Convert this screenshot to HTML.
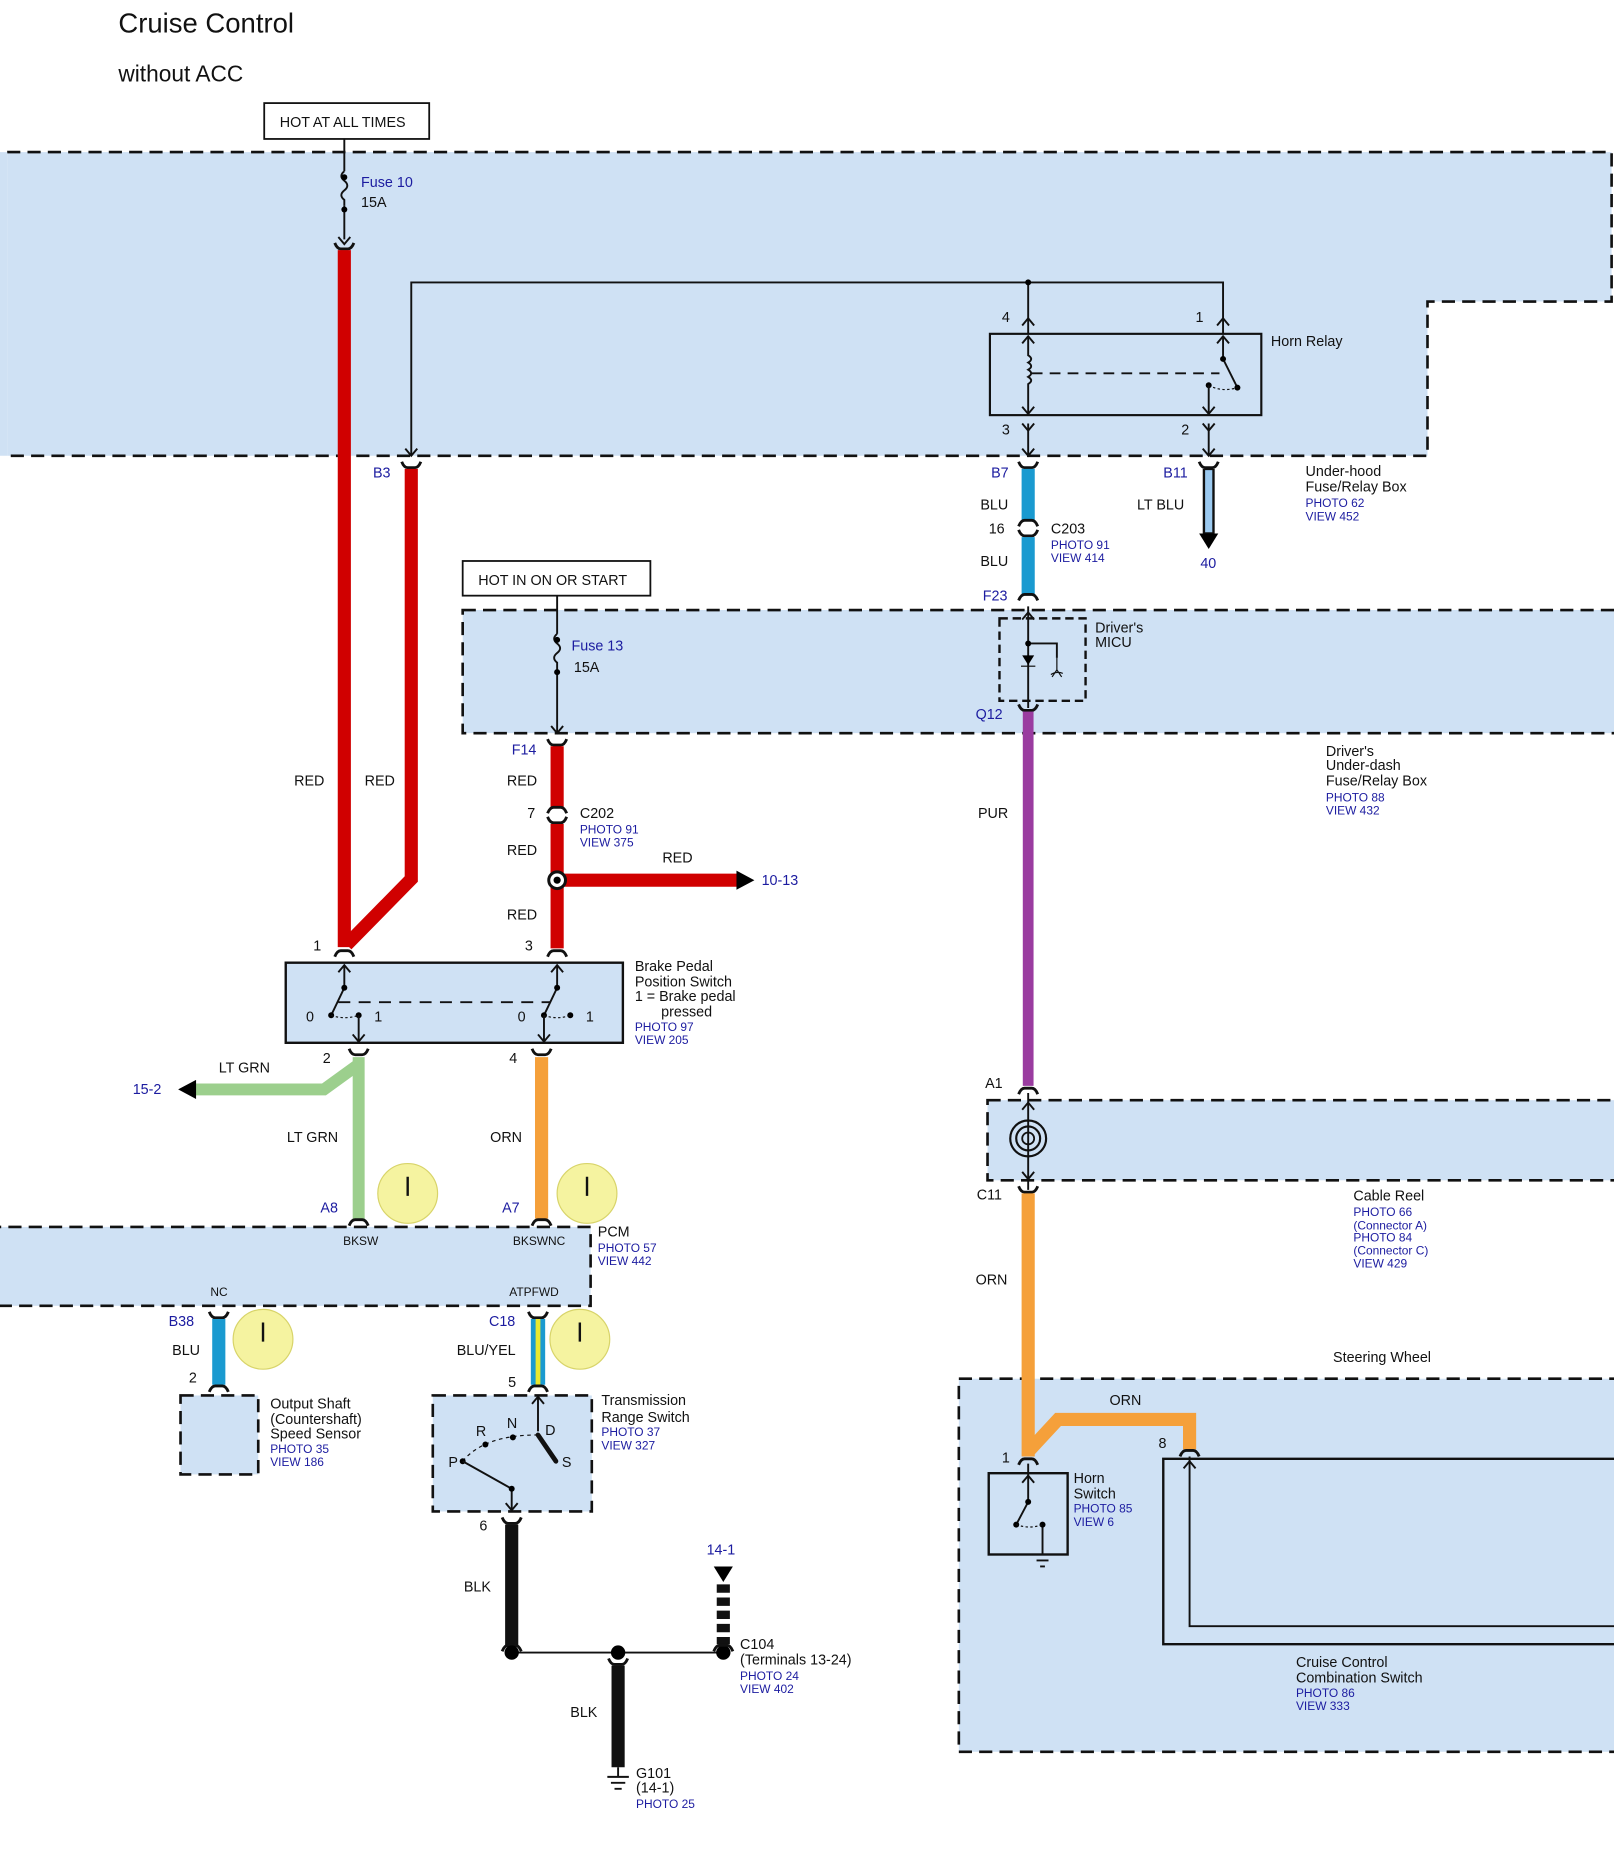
<!DOCTYPE html>
<html><head><meta charset="utf-8"><style>
html,body{margin:0;padding:0;background:#fff}
svg{display:block}
text{font-family:"Liberation Sans",sans-serif;font-size:12px;fill:#111}
.b{fill:#1c1ca0}
.dash{fill:#cfe1f4;stroke:#111;stroke-width:2.2;stroke-dasharray:11 6}
.ln{stroke:#111;stroke-width:1.6;fill:none}
.cap{stroke:#111;stroke-width:2.4;fill:none}
</style></head><body>
<svg width="1614" height="1868" viewBox="0 0 1350 1562" xmlns="http://www.w3.org/2000/svg">
<defs>
<g id="cd"><path class="cap" d="M-8 -3 Q-6 2 -3 2 L3 2 Q6 2 8 -3"/></g>
<g id="cu"><path class="cap" d="M-8 3 Q-6 -2 -3 -2 L3 -2 Q6 -2 8 3"/></g>
<g id="au"><path class="ln" d="M-5 6 L0 0 L5 6"/></g>
<g id="ad"><path class="ln" d="M-5 -6 L0 0 L5 -6"/></g>
</defs>
<text x="99" y="27" style="font-size:23px">Cruise Control</text>
<text x="99" y="68" style="font-size:19px">without ACC</text>

<path class="dash" d="M6 127 L1348 127 L1348 252 L1194 252 L1194 381 L6 381"/>
<path d="M0 127 L6 127 L6 381 L0 381Z" fill="#cfe1f4"/>
<rect class="dash" x="387" y="510" width="970" height="103"/>
<rect class="dash" x="-10" y="1026" width="504" height="66"/>
<rect class="dash" x="826" y="920" width="530" height="67"/>
<rect class="dash" x="802" y="1153" width="555" height="312"/>
<rect class="dash" x="151" y="1167" width="65" height="66"/>
<rect class="dash" x="362" y="1167" width="133" height="97"/>

<rect x="221" y="86" width="138" height="30" fill="#fff" stroke="#111" stroke-width="1.5"/>
<text x="234" y="106">HOT AT ALL TIMES</text>
<path class="ln" d="M288 116 V143 M288 172 V200"/>
<path class="ln" d="M288 143 q-5 4 0 8 q5 4 0 8 q-5 4 0 8 l0 5"/>
<circle cx="288" cy="148" r="2.5"/><circle cx="288" cy="175" r="2.5"/>
<text class="b" x="302" y="156">Fuse 10</text><text x="302" y="173">15A</text>
<use href="#ad" x="288" y="204"/>
<use href="#cd" x="288" y="206"/>
<line x1="288" y1="209" x2="288" y2="792" stroke="#d00000" stroke-width="11"/>

<path class="ln" d="M1023 279 V236 H344 V381"/>
<use href="#ad" x="344" y="381"/>
<use href="#cd" x="344" y="389"/>
<path d="M344 392 V735 L290 790" stroke="#d00000" stroke-width="11" fill="none"/>
<text class="b" x="312" y="399">B3</text>
<text x="246" y="657">RED</text><text x="305" y="657">RED</text>

<path class="ln" d="M860 236 V279"/>
<circle cx="860" cy="236" r="2.5"/>
<rect x="828" y="279" width="227" height="68" fill="none" stroke="#111" stroke-width="1.8"/>
<use href="#au" x="860" y="266"/><use href="#au" x="1023" y="266"/>
<use href="#au" x="860" y="281"/><use href="#au" x="1023" y="281"/>
<text x="838" y="269">4</text><text x="1000" y="269">1</text>
<text x="1063" y="289">Horn Relay</text>
<path class="ln" d="M860 281 V297 q5 3 0 6 q5 3 0 6 q5 3 0 6 q5 3 0 6 V347"/>
<path class="ln" d="M863 312 H1020" stroke-dasharray="9 6"/>
<path class="ln" d="M1023 281 V300 L1035 324"/><circle cx="1023" cy="300" r="2.5"/><circle cx="1035" cy="324" r="2.5"/>
<path d="M1011 322 Q1022 328 1035 324" stroke="#111" stroke-dasharray="2 2" fill="none"/>
<circle cx="1011" cy="322" r="2.5"/><path class="ln" d="M1011 322 V347"/>
<use href="#ad" x="860" y="346"/><use href="#ad" x="1011" y="346"/>
<use href="#ad" x="860" y="360"/><use href="#ad" x="1011" y="360"/>
<path class="ln" d="M860 354 V381 M1011 354 V381"/>
<use href="#ad" x="860" y="381"/><use href="#ad" x="1011" y="381"/>
<text x="838" y="363">3</text><text x="988" y="363">2</text>
<use href="#cd" x="860" y="389"/><use href="#cd" x="1011" y="389"/>
<text class="b" x="829" y="399">B7</text><text class="b" x="973" y="399">B11</text>
<text x="1092" y="398">Under-hood</text><text x="1092" y="411">Fuse/Relay Box</text>
<text class="b" x="1092" y="424" style="font-size:10px">PHOTO 62</text><text class="b" x="1092" y="435" style="font-size:10px">VIEW 452</text>
<line x1="1011" y1="392" x2="1011" y2="446" stroke="#111" stroke-width="10"/>
<line x1="1011" y1="393" x2="1011" y2="445" stroke="#9ccaf0" stroke-width="6"/>
<path d="M1003 446 L1019 446 L1011 459Z"/>
<text x="951" y="426">LT BLU</text><text class="b" x="1004" y="475">40</text>
<line x1="860" y1="392" x2="860" y2="435" stroke="#1a9ad0" stroke-width="11"/>
<use href="#cu" x="860" y="437"/><use href="#cd" x="860" y="446"/>
<line x1="860" y1="449" x2="860" y2="497" stroke="#1a9ad0" stroke-width="11"/>
<use href="#cu" x="860" y="499"/>
<text x="820" y="426">BLU</text><text x="827" y="446">16</text><text x="820" y="473">BLU</text>
<text x="879" y="446">C203</text><text class="b" x="879" y="459" style="font-size:10px">PHOTO 91</text><text class="b" x="879" y="470" style="font-size:10px">VIEW 414</text>
<text class="b" x="822" y="502">F23</text>

<rect x="387" y="469" width="157" height="29" fill="#fff" stroke="#111" stroke-width="1.5"/>
<text x="400" y="489">HOT IN ON OR START</text>
<path class="ln" d="M466 498 V530 M466 560 V613"/>
<path class="ln" d="M466 530 q-5 4 0 8 q5 4 0 8 q-5 4 0 8 l0 6"/>
<circle cx="466" cy="535" r="2.5"/><circle cx="466" cy="562" r="2.5"/>
<text class="b" x="478" y="544">Fuse 13</text><text x="480" y="562">15A</text>
<use href="#ad" x="466" y="613"/><use href="#cd" x="466" y="621"/>
<text class="b" x="428" y="631">F14</text>
<line x1="466" y1="624" x2="466" y2="675" stroke="#d00000" stroke-width="11"/>
<use href="#cu" x="466" y="677"/><use href="#cd" x="466" y="686"/>
<line x1="466" y1="689" x2="466" y2="793" stroke="#d00000" stroke-width="11"/>
<text x="424" y="657">RED</text><text x="441" y="684">7</text><text x="424" y="715">RED</text><text x="424" y="769">RED</text>
<text x="485" y="684">C202</text><text class="b" x="485" y="697" style="font-size:10px">PHOTO 91</text><text class="b" x="485" y="708" style="font-size:10px">VIEW 375</text>
<line x1="466" y1="736" x2="618" y2="736" stroke="#d00000" stroke-width="11"/>
<path d="M616 728 L631 736 L616 744Z"/>
<circle cx="466" cy="736" r="7" fill="#fff" stroke="#111" stroke-width="2.5"/><circle cx="466" cy="736" r="3"/>
<text x="554" y="721">RED</text><text class="b" x="637" y="740">10-13</text>

<rect x="836" y="517" width="72" height="69" fill="none" stroke="#111" stroke-width="2" stroke-dasharray="7 4"/>
<path class="ln" d="M860 507 V592 M860 538 H884 V550"/>
<use href="#au" x="860" y="512"/><circle cx="860" cy="538" r="2.5"/>
<path d="M855 548 H865 L860 556Z"/><line x1="854" y1="557" x2="866" y2="557" stroke="#111"/>
<path d="M879 564 q5 -3 10 -1 M884 550 V560 L880 566 M884 560 L888 566" stroke="#111" fill="none"/>
<text x="916" y="529">Driver's</text><text x="916" y="541">MICU</text>
<use href="#cd" x="860" y="592"/><text class="b" x="816" y="601">Q12</text>
<line x1="860" y1="595" x2="860" y2="908" stroke="#9a3ca0" stroke-width="9"/>
<text x="818" y="684">PUR</text>
<text x="1109" y="632">Driver's</text><text x="1109" y="644">Under-dash</text><text x="1109" y="657">Fuse/Relay Box</text>
<text class="b" x="1109" y="670" style="font-size:10px">PHOTO 88</text><text class="b" x="1109" y="681" style="font-size:10px">VIEW 432</text>

<use href="#cu" x="288" y="797"/><use href="#cu" x="466" y="797"/>
<text x="262" y="795">1</text><text x="439" y="795">3</text>
<rect x="239" y="805" width="282" height="67" fill="#cfe1f4" stroke="#111" stroke-width="2"/>
<use href="#au" x="288" y="807"/><use href="#au" x="466" y="807"/>
<path class="ln" d="M288 807 V826 L277 849 M466 807 V826 L455 849"/>
<circle cx="288" cy="826" r="2.5"/><circle cx="277" cy="849" r="2.5"/><circle cx="300" cy="849" r="2.5"/>
<circle cx="466" cy="826" r="2.5"/><circle cx="455" cy="849" r="2.5"/><circle cx="477" cy="849" r="2.5"/>
<path d="M277 849 Q288 853 300 849 M455 849 Q466 853 477 849" stroke="#111" stroke-dasharray="2 2" fill="none"/>
<path class="ln" d="M283 838 H460" stroke-dasharray="10 7"/>
<path class="ln" d="M300 849 V872 M455 849 V872"/>
<use href="#ad" x="300" y="871"/><use href="#ad" x="455" y="871"/>
<text x="256" y="854">0</text><text x="313" y="854">1</text><text x="433" y="854">0</text><text x="490" y="854">1</text>
<text x="531" y="812">Brake Pedal</text><text x="531" y="825">Position Switch</text><text x="531" y="837">1 = Brake pedal</text><text x="553" y="850">pressed</text>
<text class="b" x="531" y="862" style="font-size:10px">PHOTO 97</text><text class="b" x="531" y="873" style="font-size:10px">VIEW 205</text>
<use href="#cd" x="300" y="880"/><use href="#cd" x="453" y="880"/>
<text x="270" y="889">2</text><text x="426" y="889">4</text>
<path d="M300 884 V1020 M300 890 L271 911 H163" stroke="#9ccf8d" stroke-width="10" fill="none"/>
<path d="M164 903 L149 911 L164 919Z"/>
<text x="183" y="897">LT GRN</text><text class="b" x="111" y="915">15-2</text>
<text x="240" y="955">LT GRN</text>
<line x1="453" y1="884" x2="453" y2="1019" stroke="#f5a03a" stroke-width="11"/>
<text x="410" y="955">ORN</text>
<use href="#cu" x="300" y="1022"/><use href="#cu" x="453" y="1022"/>
<text class="b" x="268" y="1014">A8</text><text class="b" x="420" y="1014">A7</text>
<g fill="#f5f3a0" stroke="#d8d46a"><circle cx="341" cy="998" r="25"/><circle cx="491" cy="998" r="25"/><circle cx="220" cy="1120" r="25"/><circle cx="485" cy="1120" r="25"/></g>
<path d="M341 984 V1000 M491 984 V1000 M220 1106 V1122 M485 1106 V1122" stroke="#111" stroke-width="2"/>

<text x="287" y="1041" style="font-size:10px">BKSW</text><text x="429" y="1041" style="font-size:10px">BKSWNC</text>
<text x="176" y="1084" style="font-size:10px">NC</text><text x="426" y="1084" style="font-size:10px">ATPFWD</text>
<text x="500" y="1034">PCM</text><text class="b" x="500" y="1047" style="font-size:10px">PHOTO 57</text><text class="b" x="500" y="1058" style="font-size:10px">VIEW 442</text>
<use href="#cd" x="183" y="1100"/><use href="#cd" x="450" y="1100"/>
<text class="b" x="141" y="1109">B38</text><text class="b" x="409" y="1109">C18</text>
<line x1="183" y1="1103" x2="183" y2="1158" stroke="#1a9ad0" stroke-width="11"/>
<line x1="450" y1="1103" x2="450" y2="1158" stroke="#1a9ad0" stroke-width="12"/>
<line x1="450" y1="1103" x2="450" y2="1158" stroke="#e8e830" stroke-width="4"/>
<text x="144" y="1133">BLU</text><text x="382" y="1133">BLU/YEL</text>
<use href="#cu" x="183" y="1161"/><use href="#cu" x="450" y="1161"/>
<text x="158" y="1156">2</text><text x="425" y="1160">5</text>
<text x="226" y="1178">Output Shaft</text><text x="226" y="1191">(Countershaft)</text><text x="226" y="1203">Speed Sensor</text>
<text class="b" x="226" y="1215" style="font-size:10px">PHOTO 35</text><text class="b" x="226" y="1226" style="font-size:10px">VIEW 186</text>
<path class="ln" d="M450 1167 V1197"/><use href="#au" x="450" y="1168"/>
<path d="M450 1200 L465 1222" stroke="#111" stroke-width="4" stroke-linecap="round"/>
<path d="M387 1222 Q405 1200 450 1200" stroke="#111" stroke-dasharray="3 3" fill="none"/>
<circle cx="387" cy="1222" r="2.5"/><circle cx="406" cy="1208" r="2.5"/><circle cx="429" cy="1202" r="2.5"/>
<path class="ln" d="M387 1222 L428 1245 V1264"/><circle cx="428" cy="1245" r="2.5"/><use href="#ad" x="428" y="1263"/>
<text x="375" y="1227">P</text><text x="398" y="1201">R</text><text x="424" y="1194">N</text><text x="456" y="1200">D</text><text x="470" y="1227">S</text>
<text x="503" y="1175">Transmission</text><text x="503" y="1189">Range Switch</text>
<text class="b" x="503" y="1201" style="font-size:10px">PHOTO 37</text><text class="b" x="503" y="1212" style="font-size:10px">VIEW 327</text>
<use href="#cd" x="428" y="1272"/><text x="401" y="1280">6</text>
<line x1="428" y1="1275" x2="428" y2="1376" stroke="#111" stroke-width="11"/>
<use href="#cu" x="428" y="1378"/>
<text x="388" y="1331">BLK</text>
<path class="ln" d="M428 1382 H605"/>
<circle cx="428" cy="1382" r="6"/><circle cx="517" cy="1382" r="6"/><circle cx="605" cy="1382" r="6"/>
<use href="#cd" x="517" y="1390"/>
<line x1="517" y1="1393" x2="517" y2="1478" stroke="#111" stroke-width="11"/>
<text x="477" y="1436">BLK</text>
<path class="ln" d="M517 1478 V1486 M508 1486 H526 M511 1491 H523 M514 1496 H520"/>
<text x="532" y="1487">G101</text><text x="532" y="1499">(14-1)</text><text class="b" x="532" y="1512" style="font-size:10px">PHOTO 25</text>
<path d="M597 1310 H613 L605 1323Z"/>
<line x1="605" y1="1325" x2="605" y2="1375" stroke="#111" stroke-width="11" stroke-dasharray="7 4"/>
<use href="#cu" x="605" y="1378"/>
<text class="b" x="591" y="1300">14-1</text>
<text x="619" y="1379">C104</text><text x="619" y="1392">(Terminals 13-24)</text>
<text class="b" x="619" y="1405" style="font-size:10px">PHOTO 24</text><text class="b" x="619" y="1416" style="font-size:10px">VIEW 402</text>

<use href="#cu" x="860" y="912"/><text x="824" y="910">A1</text>
<path class="ln" d="M860 914 V995"/><use href="#au" x="860" y="922"/><use href="#ad" x="860" y="986"/>
<circle cx="860" cy="952" r="15" fill="none" stroke="#111" stroke-width="1.8"/><circle cx="860" cy="952" r="10" fill="none" stroke="#111" stroke-width="1.8"/><circle cx="860" cy="952" r="5" fill="none" stroke="#111" stroke-width="1.5"/>
<use href="#cd" x="860" y="995"/><text x="817" y="1003">C11</text>
<text x="1132" y="1004">Cable Reel</text>
<text class="b" x="1132" y="1017" style="font-size:10px">PHOTO 66</text><text class="b" x="1132" y="1028" style="font-size:10px">(Connector A)</text><text class="b" x="1132" y="1038" style="font-size:10px">PHOTO 84</text><text class="b" x="1132" y="1049" style="font-size:10px">(Connector C)</text><text class="b" x="1132" y="1060" style="font-size:10px">VIEW 429</text>
<path d="M860 998 V1218 M860 1214 L885 1187 H995 V1212" stroke="#f5a03a" stroke-width="11" fill="none"/>
<text x="816" y="1074">ORN</text><text x="928" y="1175">ORN</text>
<text x="1115" y="1139">Steering Wheel</text>
<use href="#cu" x="860" y="1222"/><use href="#cu" x="995" y="1215"/>
<text x="838" y="1223">1</text><text x="969" y="1211">8</text>
<rect x="827" y="1232" width="66" height="68" fill="none" stroke="#111" stroke-width="2"/>
<path class="ln" d="M860 1224 V1256 L850 1275 M872 1275 V1300"/><use href="#au" x="860" y="1234"/>
<circle cx="860" cy="1256" r="2.5"/><circle cx="850" cy="1275" r="2.5"/><circle cx="872" cy="1275" r="2.5"/>
<path d="M850 1275 Q861 1279 872 1275" stroke="#111" stroke-dasharray="2 2" fill="none"/>
<path class="ln" d="M864 1300 H880 M867 1305 H877 M870 1310 H874"/>
<text x="898" y="1240">Horn</text><text x="898" y="1253">Switch</text>
<text class="b" x="898" y="1265" style="font-size:10px">PHOTO 85</text><text class="b" x="898" y="1276" style="font-size:10px">VIEW 6</text>
<path d="M1356 1220 H973 V1375 H1356" fill="none" stroke="#111" stroke-width="2"/>
<path class="ln" d="M995 1218 V1360 H1356"/><use href="#au" x="995" y="1222"/>
<text x="1084" y="1394">Cruise Control</text><text x="1084" y="1407">Combination Switch</text>
<text class="b" x="1084" y="1419" style="font-size:10px">PHOTO 86</text><text class="b" x="1084" y="1430" style="font-size:10px">VIEW 333</text>
</svg>
</body></html>
